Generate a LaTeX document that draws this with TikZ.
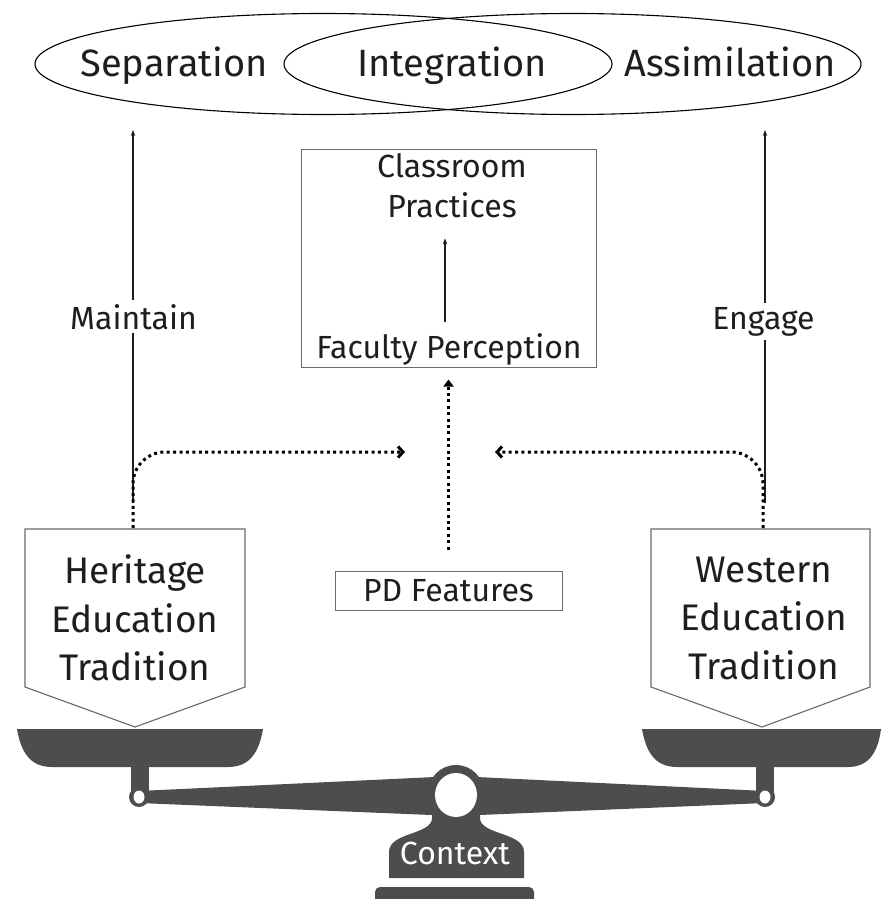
\documentclass[tikz,border=0pt]{standalone}
\usepackage{fontspec}
\setmainfont{Fira Sans}
\usetikzlibrary{arrows.meta,shapes.geometric}
\definecolor{scalegray}{HTML}{4D4D4D}
\definecolor{ink}{HTML}{1E1E1E}
\definecolor{boxline}{HTML}{6A6A6A}
\begin{document}
\begin{tikzpicture}[x=1pt,y=-1pt,
  lbl/.style={font=\fontsize{32}{40}\selectfont, text=ink, inner sep=0pt},
  big/.style={font=\fontsize{38}{46}\selectfont, text=ink, inner sep=0pt},
  trad/.style={font=\fontsize{37}{48.5}\selectfont, text=ink, align=center, inner sep=0pt},
  oval/.style={draw=black, line width=1.1pt, ellipse, minimum width=577pt, minimum height=101pt, inner sep=0pt, outer sep=0pt},
  thinarrow/.style={draw=ink, line width=1.1pt, -{Stealth[length=6pt,width=4.5pt]}},
  dotarrow/.style={draw=black, line width=3pt, dash pattern=on 3pt off 3.4pt, rounded corners=32pt, -{Straight Barb[length=5pt,width=11pt]}},
  cdotarrow/.style={draw=black, line width=3pt, dash pattern=on 3pt off 3.4pt, -{Triangle[length=7pt,width=10pt]}},
  box/.style={draw=boxline, line width=1pt},
  tradbox/.style={draw=boxline, line width=1.1pt, fill=white},
]
\useasboundingbox (0,0) rectangle (881,899);
\fill[white] (0,0) rectangle (881,899);

% ---- top ellipses ----
\node[oval] (sepE) at (323.5,64) {};
\node[oval] (assE) at (572.5,64) {};
\node[big, anchor=base] (sep) at (174,77) {Separation};
\node[big, anchor=base] (int) at (452,77) {Integration};
\node[big, anchor=base] (ass) at (730,77) {Assimilation};

% ---- centre box ----
\node[box, minimum width=295pt, minimum height=218pt, inner sep=0pt] (cbox) at (448.5,258) {};
\node[lbl, align=center] (cp) at (452,186) {Classroom\\Practices};
\node[lbl, anchor=base] (fp) at (449,358) {Faculty Perception};
\draw[thinarrow] ([yshift=11pt]fp.north -| 445,0) -- ([yshift=-20pt]cp.south -| 445,0);

% ---- PD features ----
\node[box, lbl, minimum width=227pt, minimum height=39pt] (pd) at (448.5,590.5) {PD Features};
\draw[cdotarrow] ([yshift=21pt]pd.north) -- ([yshift=-12pt]cbox.south);

% ---- scale ----
\fill[scalegray] (17,729) -- (263,729) .. controls (259,752) and (250,767) .. (228,767) -- (52,767) .. controls (30,767) and (21,752) .. (17,729) -- cycle;
\fill[scalegray] (131,760) rectangle (149,797);
\fill[scalegray] (642,729) -- (881,729) .. controls (878,752) and (869,767) .. (848,767) -- (677,767) .. controls (655,767) and (646,752) .. (642,729) -- cycle;
\fill[scalegray] (756,760) rectangle (774,797);
\fill[scalegray] (139,791) -- (456,776) -- (765,791) -- (765,803) -- (456,816) -- (139,803) -- cycle;
\fill[scalegray] (432,800) -- (432,818) .. controls (432,835) and (389,832) .. (389,852) -- (389,878) -- (524,878) -- (524,852) .. controls (524,832) and (480,835) .. (480,818) -- (480,800) -- cycle;
\fill[scalegray] (375,899) [rounded corners=5pt] -- (375,887) -- (534,887) [sharp corners] -- (534,899) -- cycle;
\fill[scalegray] (456,793) circle[radius=28];
\fill[white] (456,795) ellipse[x radius=21, y radius=22];
\fill[scalegray] (139,797) circle[radius=10];
\fill[white] (139,797) ellipse[x radius=5.5, y radius=6.5];
\fill[scalegray] (765,797) circle[radius=10];
\fill[white] (765,797) ellipse[x radius=5.5, y radius=6.5];
\node[lbl, text=white, anchor=base] (ctx) at (455,864) {Context};

% ---- tradition pentagons ----
\draw[tradbox] (25,529) -- (245,529) -- (245,687) -- (135,727) -- (25,687) -- cycle;
\draw[tradbox] (651,529) -- (870,529) -- (870,687) -- (762,727) -- (651,687) -- cycle;
\node[trad] (her) at (135,618) {Heritage\\Education\\Tradition};
\node[trad] (wes) at (764,618) {Western\\Education\\Tradition};
\coordinate (herTop) at (133,528);
\coordinate (wesTop) at (763,528);
\coordinate (lTip) at (405,452);
\coordinate (rTip) at (495,452);
\coordinate (mBot) at (133,503);
\coordinate (mTop) at (133,130);
\coordinate (eBot) at (765,503);
\coordinate (eTop) at (765,130);

% ---- maintain / engage ----
\draw[thinarrow] (mBot) -- (mTop);
\draw[thinarrow] (eBot) -- (eTop);
\node[lbl, fill=white, inner sep=4pt, anchor=base] (maint) at (133.5,329) {Maintain};
\node[lbl, fill=white, inner sep=4pt, anchor=base] (eng) at (763.5,329) {Engage};

% ---- dotted influences ----
\draw[dotarrow] (herTop) |- (lTip);
\draw[dotarrow] (wesTop) |- (rTip);
\end{tikzpicture}
\end{document}
